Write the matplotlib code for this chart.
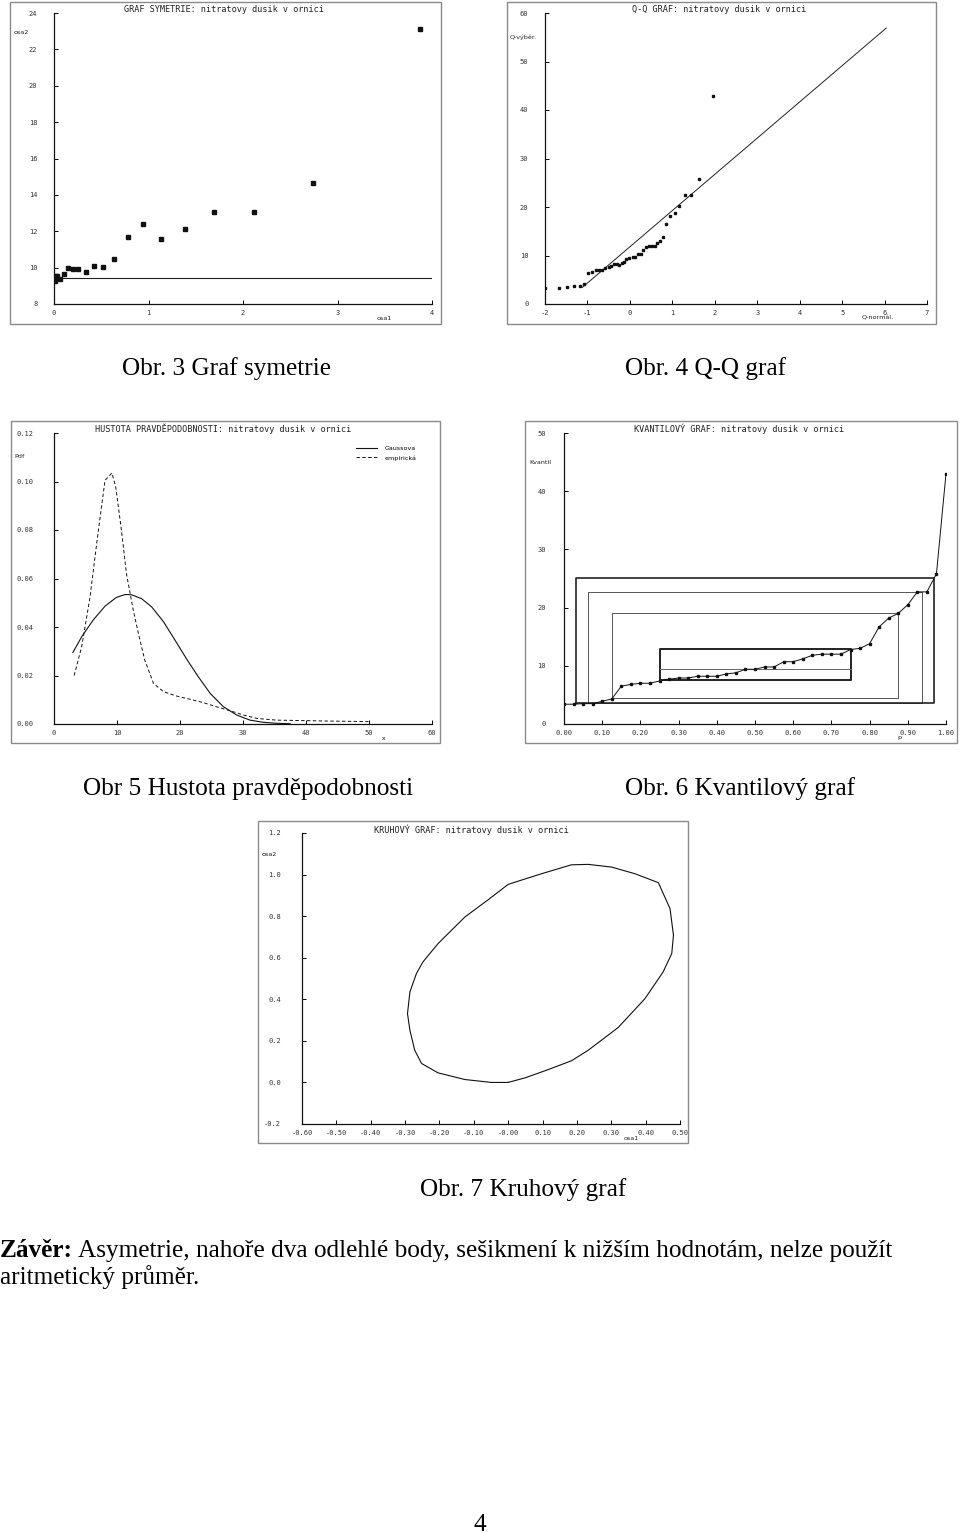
import matplotlib
matplotlib.use('Agg')
import matplotlib.pyplot as plt
from matplotlib.patches import Rectangle
from matplotlib.text import Annotation

W, H = 960, 1534

# ---------------- Panel 1: GRAF SYMETRIE ----------------
sym_x = [3.876, 2.736, 2.118, 1.691, 1.384, 1.137, 0.943, 0.780, 0.636, 0.522,
         0.424, 0.339, 0.258, 0.205, 0.145, 0.102, 0.067, 0.028, 0.010, 0.014, 0.0]
sym_y = [23.13, 14.63, 13.07, 13.07, 12.10, 11.57, 12.38, 11.68, 10.49, 10.01,
         10.09, 9.78, 9.94, 9.94, 9.98, 9.67, 9.39, 9.52, 9.55, 9.26, 9.50]
sym_median = 9.43
sym_xticks = [0, 1, 2, 3, 4]
sym_yticks = [8, 10, 12, 14, 16, 18, 20, 22, 24]

# ---------------- Panel 2: Q-Q GRAF ----------------
qq_x = [-2.00, -1.66, -1.47, -1.31, -1.18, -1.08, -0.98, -0.89, -0.81, -0.73,
        -0.65, -0.58, -0.50, -0.44, -0.37, -0.31, -0.25, -0.18, -0.14, -0.08,
        -0.01, 0.07, 0.13, 0.19, 0.25, 0.32, 0.38, 0.44, 0.52, 0.58,
        0.64, 0.71, 0.79, 0.86, 0.94, 1.06, 1.15, 1.29, 1.44, 1.64, 1.96]
qq_y = [3.2, 3.4, 3.6, 3.7, 3.8, 4.2, 6.45, 6.7, 7.0, 7.0,
        7.1, 7.4, 7.7, 7.9, 8.2, 8.2, 8.0, 8.4, 8.6, 9.2,
        9.4, 9.75, 9.75, 10.4, 10.4, 11.1, 11.8, 11.9, 11.9, 11.9,
        12.6, 13.0, 13.9, 16.5, 18.2, 18.8, 20.2, 22.5, 22.5, 25.7, 42.9]
qq_line_x = [-1.12, 6.04]
qq_line_y = [3.43, 56.9]
qq_xticks = [-2, -1, 0, 1, 2, 3, 4, 5, 6, 7]
qq_yticks = [0, 10, 20, 30, 40, 50, 60]

# ---------------- Panel 3: HUSTOTA PRAVDEPODOBNOSTI ----------------
gauss_x = [3.0, 4.4, 6.2, 8.1, 9.9, 11.3, 12.3, 13.9, 15.5, 17.4, 19.2, 21.1,
           22.9, 24.8, 26.9, 29.0, 31.1, 33.2, 35.3, 37.5]
gauss_y = [0.0295, 0.036, 0.0428, 0.0486, 0.0522, 0.0534, 0.0533, 0.0517, 0.0483,
           0.0421, 0.0346, 0.0266, 0.0195, 0.0126, 0.0071, 0.0037, 0.0016, 0.0007,
           0.0003, 0.0001]
emp_x = [3.2, 4.4, 5.7, 6.9, 8.1, 9.2, 9.8, 10.7, 11.5, 12.5, 13.4, 14.4, 15.8,
         17.4, 19.5, 21.6, 23.7, 25.8, 27.9, 30.1, 32.2, 35.3, 39.6, 43.8, 49.9]
emp_y = [0.020, 0.032, 0.052, 0.077, 0.1005, 0.1035, 0.0977, 0.080, 0.062, 0.048,
         0.0373, 0.0264, 0.0167, 0.0133, 0.0115, 0.0102, 0.0088, 0.0071, 0.0055,
         0.0037, 0.0023, 0.0016, 0.0014, 0.0012, 0.0010]
pdf_xticks = [0, 10, 20, 30, 40, 50, 60]
pdf_yticks = [0.00, 0.02, 0.04, 0.06, 0.08, 0.10, 0.12]

# ---------------- Panel 4: KVANTILOVY GRAF ----------------
quant_p = [i / 40 for i in range(41)]
quant_v = [3.4, 3.4, 3.5, 3.5, 3.9, 4.3, 6.5, 6.8, 7.0, 7.0,
           7.4, 7.7, 7.9, 7.9, 8.2, 8.2, 8.2, 8.6, 8.8, 9.4,
           9.4, 9.8, 9.8, 10.7, 10.7, 11.2, 11.8, 12.0, 12.0, 12.0,
           12.8, 13.0, 13.8, 16.7, 18.2, 19.0, 20.5, 22.7, 22.7, 25.8, 43.0]
box_p_lo = [0.25, 0.125, 0.0625, 0.03125]
box_p_hi = [0.75, 0.875, 0.9375, 0.96875]
box_v_lo = [7.5, 4.5, 3.66, 3.66]
box_v_hi = [12.9, 19.1, 22.7, 25.1]
box_lw = [1.4, 0.7, 0.7, 1.2]
box_col = ['#222222', '#555555', '#555555', '#222222']
quant_median = 9.44
kv_xticks = [0.0, 0.1, 0.2, 0.3, 0.4, 0.5, 0.6, 0.7, 0.8, 0.9, 1.0]
kv_yticks = [0, 10, 20, 30, 40, 50]

# ---------------- Panel 5: KRUHOVY GRAF ----------------
circ_x = [0.0, -0.049, -0.126, -0.204, -0.252, -0.272, -0.286, -0.293, -0.286,
          -0.267, -0.248, -0.204, -0.126, -0.058, 0.0, 0.097, 0.184, 0.233, 0.301,
          0.369, 0.437, 0.471, 0.481, 0.476, 0.451, 0.398, 0.320, 0.233, 0.184,
          0.107, 0.049, 0.0]
circ_y = [0.0, 0.0, 0.014, 0.046, 0.091, 0.155, 0.251, 0.331, 0.435, 0.524,
          0.580, 0.668, 0.796, 0.879, 0.953, 1.004, 1.047, 1.049, 1.036, 1.004,
          0.961, 0.836, 0.708, 0.620, 0.532, 0.403, 0.264, 0.155, 0.104, 0.056,
          0.022, 0.0]
kr_xticks = [-0.6, -0.5, -0.4, -0.3, -0.2, -0.1, 0.0, 0.1, 0.2, 0.3, 0.4, 0.5]
kr_xlabels = ['-0.60', '-0.50', '-0.40', '-0.30', '-0.20', '-0.10', '-0.00',
              '0.10', '0.20', '0.30', '0.40', '0.50']
kr_yticks = [-0.2, 0.0, 0.2, 0.4, 0.6, 0.8, 1.0, 1.2]

MONO = 'DejaVu Sans Mono'
SERIF = 'Liberation Serif'
TICK_FS = 5.0
TITLE_FS = 6.1
LAB_FS = 4.6

fig = plt.figure(figsize=(W / 100, H / 100), dpi=100)
fig.patch.set_facecolor('white')


def px_axes(x0, y0, x1, y1):
    return fig.add_axes([x0 / W, 1 - y1 / H, (x1 - x0) / W, (y1 - y0) / H])


def frame(x0, y0, x1, y1):
    fig.add_artist(Rectangle((x0 / W, 1 - y1 / H), (x1 - x0) / W, (y1 - y0) / H,
                             transform=fig.transFigure, fill=False,
                             ec='#8a8a8a', lw=1.0))


def ftext(x, y, s, **kw):
    return fig.text(x / W, 1 - y / H, s, **kw)


def style(ax, xlim, ylim, xt, yt, xl, yl, ypad=12):
    ax.set_xlim(*xlim)
    ax.set_ylim(*ylim)
    for s in ('top', 'right'):
        ax.spines[s].set_visible(False)
    for s in ('left', 'bottom'):
        ax.spines[s].set_linewidth(0.9)
        ax.spines[s].set_color('#111111')
    ax.set_xticks(xt)
    ax.set_yticks(yt)
    ax.set_xticklabels(xl, fontfamily=MONO, fontsize=TICK_FS, color='#333333')
    ax.set_yticklabels(yl, fontfamily=MONO, fontsize=TICK_FS, color='#333333')
    ax.tick_params(axis='x', direction='in', length=3, width=0.7, pad=4)
    ax.tick_params(axis='y', direction='in', length=3, width=0.7, pad=ypad)
    ax.patch.set_alpha(0)


# ===== Panel 1 =====
frame(10, 2, 441, 324)
ax1 = px_axes(54, 13, 432, 304)
style(ax1, (0, 4), (8, 24), sym_xticks, sym_yticks,
      [str(v) for v in sym_xticks], [str(v) for v in sym_yticks])
ax1.axhline(sym_median, color='#222222', lw=0.8)
ax1.plot(sym_x, sym_y, ls='none', marker='s', ms=2.3, color='#111111')
ftext(224, 9, 'GRAF SYMETRIE: nitratovy dusik v ornici', family=MONO,
      fontsize=TITLE_FS, ha='center', va='center', color='#222222')
ftext(14, 32, 'osa2', fontsize=LAB_FS, ha='left', va='center', color='#222222')
ftext(377, 318, 'osa1', fontsize=LAB_FS, ha='left', va='center', color='#222222')

# ===== Panel 2 =====
frame(507, 2, 936, 324)
ax2 = px_axes(545, 13, 927, 304)
style(ax2, (-2, 7), (0, 60), qq_xticks, qq_yticks,
      [str(v) for v in qq_xticks], [str(v) for v in qq_yticks])
ax2.plot(qq_line_x, qq_line_y, color='#222222', lw=0.7)
ax2.plot(qq_x, qq_y, ls='none', marker='s', ms=2.1, color='#111111')
ftext(719, 9, 'Q-Q GRAF: nitratovy dusik v ornici', family=MONO,
      fontsize=TITLE_FS, ha='center', va='center', color='#222222')
ftext(510, 37, 'Q-výběr.', fontsize=LAB_FS, ha='left', va='center', color='#222222')
ftext(862, 318, 'Q-normál.', fontsize=LAB_FS, ha='left', va='center', color='#222222')

# ===== Panel 3 =====
frame(11, 421, 440, 743)
ax3 = px_axes(54, 433, 432, 724)
style(ax3, (0, 60), (0, 0.12), pdf_xticks, pdf_yticks,
      [str(v) for v in pdf_xticks], ['%.2f' % v for v in pdf_yticks], ypad=15)
ax3.plot(gauss_x, gauss_y, color='#111111', lw=0.8, label='Gaussova')
ax3.plot(emp_x, emp_y, color='#111111', lw=0.7, ls=(0, (3.5, 2.5)), label='empirická')
leg = ax3.legend(loc='upper left', bbox_to_anchor=(350 / W, 1 - 440 / H),
                 bbox_transform=fig.transFigure, frameon=False,
                 prop={'size': LAB_FS}, handlelength=3.3, handletextpad=1.2,
                 labelspacing=0.6)
ftext(223, 429, 'HUSTOTA PRAVDĚPODOBNOSTI: nitratovy dusik v ornici', family=MONO,
      fontsize=TITLE_FS, ha='center', va='center', color='#222222')
ftext(14, 457, 'Pdf', fontsize=LAB_FS, ha='left', va='center', color='#222222')
ftext(382, 738, 'x', fontsize=LAB_FS, ha='left', va='center', color='#222222')

# ===== Panel 4 =====
frame(525, 421, 957, 743)
ax4 = px_axes(564, 433, 946, 724)
style(ax4, (0, 1), (0, 50), kv_xticks, kv_yticks,
      ['%.2f' % v for v in kv_xticks], [str(v) for v in kv_yticks], ypad=13)
for plo, phi, vlo, vhi, lw, c in zip(box_p_lo, box_p_hi, box_v_lo, box_v_hi,
                                      box_lw, box_col):
    ax4.plot([plo, phi, phi, plo, plo], [vlo, vlo, vhi, vhi, vlo],
             color=c, lw=lw)
ax4.plot([box_p_lo[0], box_p_hi[0]], [quant_median, quant_median],
         color='#666666', lw=0.7)
ax4.plot(quant_p, quant_v, color='#111111', lw=0.7, marker='s', ms=2.0)
ftext(739, 429, 'KVANTILOVÝ GRAF: nitratovy dusik v ornici', family=MONO,
      fontsize=TITLE_FS, ha='center', va='center', color='#222222')
ftext(529, 462, 'Kvantil', fontsize=LAB_FS, ha='left', va='center', color='#222222')
ftext(897, 737, 'p', fontsize=LAB_FS, ha='left', va='center', color='#222222')

# ===== Panel 5 =====
frame(258, 821, 688, 1143)
ax5 = px_axes(302, 833, 680, 1124)
style(ax5, (-0.6, 0.5), (-0.2, 1.2), kr_xticks, kr_yticks,
      kr_xlabels, ['%.1f' % v for v in kr_yticks], ypad=15)
ax5.plot(circ_x, circ_y, color='#111111', lw=0.8)
ftext(471, 830, 'KRUHOVÝ GRAF: nitratovy dusik v ornici', family=MONO,
      fontsize=TITLE_FS, ha='center', va='center', color='#222222')
ftext(262, 854, 'osa2', fontsize=LAB_FS, ha='left', va='center', color='#222222')
ftext(624, 1138, 'osa1', fontsize=LAB_FS, ha='left', va='center', color='#222222')

# ===== Captions and text =====
CAP_FS = 18.2
ftext(122, 369, 'Obr. 3 Graf symetrie', family=SERIF, fontsize=CAP_FS,
      ha='left', va='center')
ftext(625, 369, 'Obr. 4 Q-Q graf', family=SERIF, fontsize=CAP_FS,
      ha='left', va='center')
ftext(83, 789, 'Obr 5 Hustota pravděpodobnosti', family=SERIF, fontsize=CAP_FS,
      ha='left', va='center')
ftext(625, 789, 'Obr. 6 Kvantilový graf', family=SERIF, fontsize=CAP_FS,
      ha='left', va='center')
ftext(420, 1190, 'Obr. 7 Kruhový graf', family=SERIF, fontsize=CAP_FS,
      ha='left', va='center')
t_bold = ftext(0, 1257, 'Závěr:', family=SERIF, fontsize=CAP_FS, fontweight='bold',
               ha='left', va='baseline')
fig.add_artist(Annotation(
    ' Asymetrie, nahoře dva odlehlé body, sešikmení k nižším hodnotám, nelze použít',
    xy=(1, 0), xycoords=t_bold, va='bottom', ha='left',
    family=SERIF, fontsize=CAP_FS, annotation_clip=False))
ftext(0, 1277, 'aritmetický průměr.', family=SERIF, fontsize=CAP_FS,
      ha='left', va='center')
ftext(480, 1525, '4', family=SERIF, fontsize=CAP_FS, ha='center', va='center')

fig.savefig('out.png', dpi=100)
